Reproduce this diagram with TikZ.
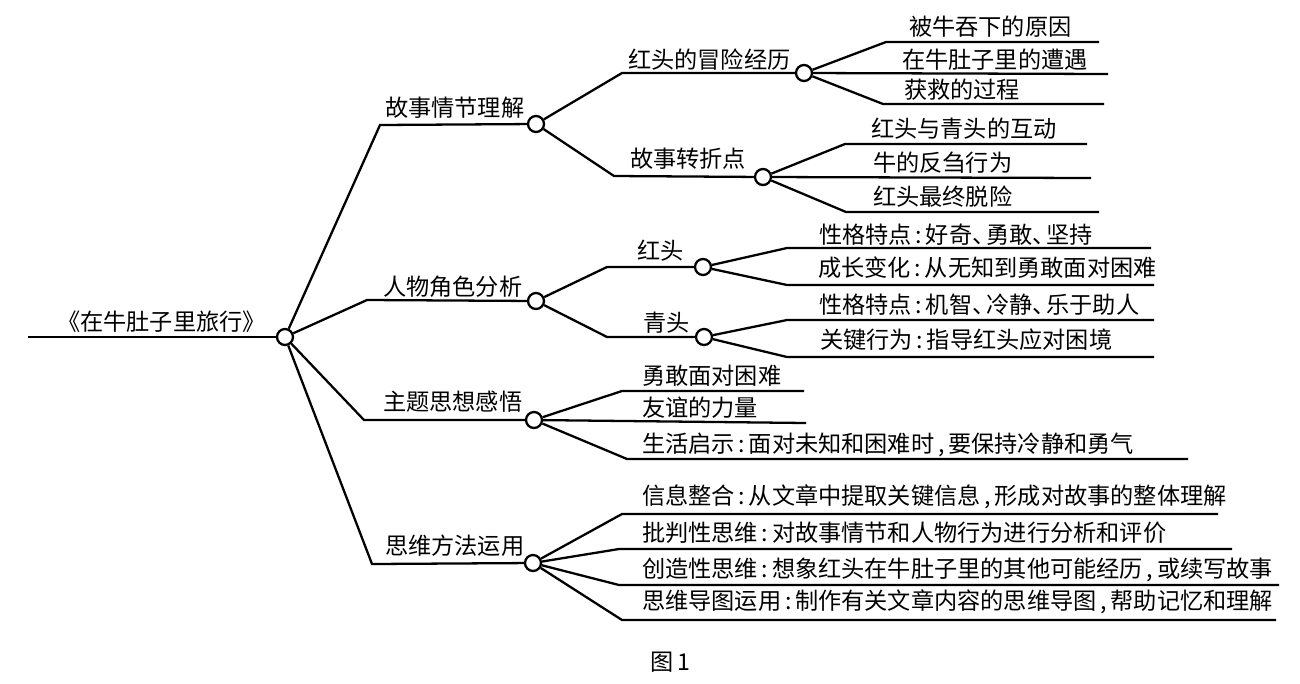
\documentclass[tikz,border=0pt]{standalone}
\usepackage{fontspec}
\newfontfamily\cjk{Noto Sans CJK SC}
\newcommand{\hw}[1]{\makebox[.6em]{#1}}
\newcommand{\dn}{\makebox[.6em][l]{、}}
\tikzset{
  dot/.style={circle, draw, line width=1.3pt, fill=white, inner sep=0pt, minimum size=0.32cm},
  lbl/.style={anchor=west, inner sep=0pt, font=\fontsize{13.2}{15}\cjk},
}

\begin{document}
\begin{tikzpicture}[x=0.02cm, y=-0.02cm, line width=1.3pt]
            \useasboundingbox (0,0) rectangle (1300,683);

            % root
            \coordinate (r0) at (28,337);
            \node[dot] (r) at (285,337) {};
            \node[lbl] (rt) at (56,322) {《在牛肚子里旅行》};
            \draw (r0) -- (r);

            % 故事情节理解
            \coordinate (a0) at (380,125);
            \node[dot] (a) at (536,124) {};
            \node[lbl] (at) at (384,108) {故事情节理解};
            \draw (r) -- (a0) -- (a);

            \coordinate (a10) at (622,73);
            \node[dot] (a1) at (804,73) {};
            \node[lbl] (a1t) at (627,60) {红头的冒险经历};
            \draw (a) -- (a10) -- (a1);
            \coordinate (a11s) at (886,42);  \coordinate (a11e) at (1099,42);
            \coordinate (a12e) at (1108,74);
            \coordinate (a13s) at (883,104); \coordinate (a13e) at (1104,104);
            \draw (a1) -- (a11s) -- (a11e);
            \draw (a1) -- (a12e);
            \draw (a1) -- (a13s) -- (a13e);
            \node[lbl] (a11t) at (908,27) {被牛吞下的原因};
            \node[lbl] (a12t) at (901,60) {在牛肚子里的遭遇};
            \node[lbl] (a13t) at (903,90) {获救的过程};

            \coordinate (a20) at (614,176);
            \node[dot] (a2) at (763,177) {};
            \node[lbl] (a2t) at (629,159) {故事转折点};
            \draw (a) -- (a20) -- (a2);
            \coordinate (a21s) at (845,144); \coordinate (a21e) at (1087,144);
            \coordinate (a22e) at (1091,178);
            \coordinate (a23s) at (846,212); \coordinate (a23e) at (1099,212);
            \draw (a2) -- (a21s) -- (a21e);
            \draw (a2) -- (a22e);
            \draw (a2) -- (a23s) -- (a23e);
            \node[lbl] (a21t) at (870,129) {红头与青头的互动};
            \node[lbl] (a22t) at (872,163) {牛的反刍行为};
            \node[lbl] (a23t) at (872,197) {红头最终脱险};

            % 人物角色分析
            \coordinate (b0) at (367,300);
            \node[dot] (b) at (536,301) {};
            \node[lbl] (bt) at (382,287) {人物角色分析};
            \draw (r) -- (b0) -- (b);

            \coordinate (b10) at (607,267);
            \node[dot] (b1) at (703,267) {};
            \node[lbl] (b1t) at (636,251) {红头};
            \draw (b) -- (b10) -- (b1);
            \coordinate (b11s) at (787,248); \coordinate (b11e) at (1151,248);
            \coordinate (b12s) at (787,285); \coordinate (b12e) at (1154,285);
            \draw (b1) -- (b11s) -- (b11e);
            \draw (b1) -- (b12s) -- (b12e);
            \node[lbl] (b11t) at (818,235) {性格特点\hw{:}好奇\dn 勇敢\dn 坚持};
            \node[lbl] (b12t) at (817,268) {成长变化\hw{:}从无知到勇敢面对困难};

            \coordinate (b20) at (607,337);
            \node[dot] (b2) at (704,337) {};
            \node[lbl] (b2t) at (642,323) {青头};
            \draw (b) -- (b20) -- (b2);
            \coordinate (b21s) at (787,320); \coordinate (b21e) at (1154,320);
            \coordinate (b22s) at (787,357); \coordinate (b22e) at (1154,357);
            \draw (b2) -- (b21s) -- (b21e);
            \draw (b2) -- (b22s) -- (b22e);
            \node[lbl] (b21t) at (818,305) {性格特点\hw{:}机智\dn 冷静\dn 乐于助人};
            \node[lbl] (b22t) at (819,340) {关键行为\hw{:}指导红头应对困境};

            % 主题思想感悟
            \coordinate (c0) at (364,420);
            \node[dot] (c) at (534,420) {};
            \node[lbl] (ct) at (382,402) {主题思想感悟};
            \draw (r) -- (c0) -- (c);
            \coordinate (c1s) at (622,391); \coordinate (c1e) at (804,391);
            \coordinate (c2e) at (806,423);
            \coordinate (c3s) at (627,459); \coordinate (c3e) at (1188,459);
            \draw (c) -- (c1s) -- (c1e);
            \draw (c) -- (c2e);
            \draw (c) -- (c3s) -- (c3e);
            \node[lbl] (c1t) at (641,376) {勇敢面对困难};
            \node[lbl] (c2t) at (641,408) {友谊的力量};
            \node[lbl] (c3t) at (641,445) {生活启示\hw{:}面对未知和困难时\hw{,}要保持冷静和勇气};

            % 思维方法运用
            \coordinate (d0) at (372,564);
            \node[dot] (d) at (533,563) {};
            \node[lbl] (dt) at (384,546) {思维方法运用};
            \draw (r) -- (d0) -- (d);
            \coordinate (d1s) at (622,514); \coordinate (d1e) at (1218,514);
            \coordinate (d2s) at (619,549); \coordinate (d2e) at (1232,549);
            \coordinate (d3s) at (619,585); \coordinate (d3e) at (1279,585);
            \coordinate (d4s) at (622,620); \coordinate (d4e) at (1276,620);
            \draw (d) -- (d1s) -- (d1e);
            \draw (d) -- (d2s) -- (d2e);
            \draw (d) -- (d3s) -- (d3e);
            \draw (d) -- (d4s) -- (d4e);
            \node[lbl] (d1t) at (641,497) {信息整合\hw{:}从文章中提取关键信息\hw{,}形成对故事的整体理解};
            \node[lbl] (d2t) at (641,533) {批判性思维\hw{:}对故事情节和人物行为进行分析和评价};
            \node[lbl] (d3t) at (641,570) {创造性思维\hw{:}想象红头在牛肚子里的其他可能经历\hw{,}或续写故事};
            \node[lbl] (d4t) at (641,602) {思维导图运用\hw{:}制作有关文章内容的思维导图\hw{,}帮助记忆和理解};

            \node[lbl, anchor=center] (cap) at (670,662) {图\,1};
        \end{tikzpicture}
\end{document}
